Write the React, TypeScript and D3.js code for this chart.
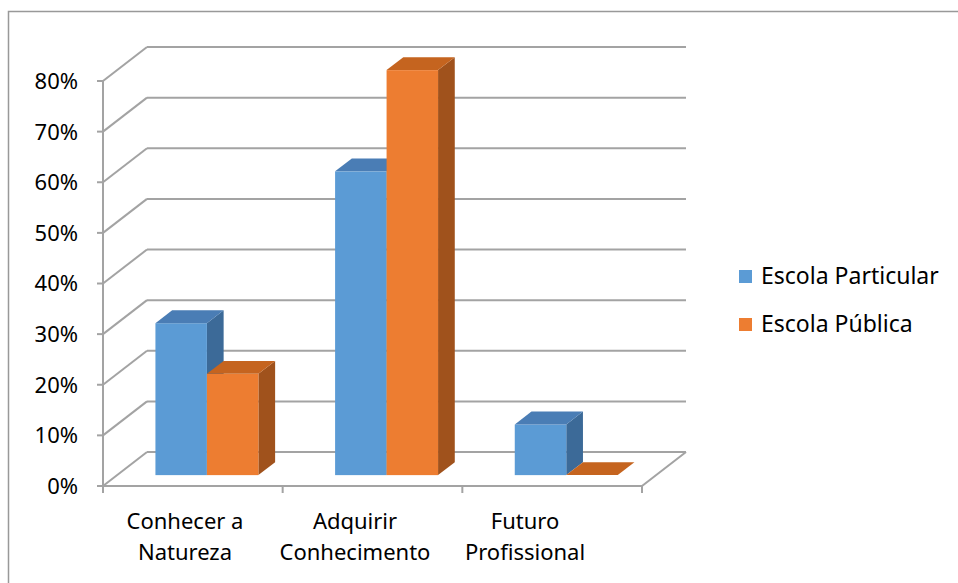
import * as d3 from 'd3';

const categories = [["Conhecer a", "Natureza"], ["Adquirir", "Conhecimento"], ["Futuro", "Profissional"]];
const seriesNames = ["Escola Particular", "Escola Pública"];
const particular = [0.30, 0.60, 0.10];
const publica = [0.20, 0.80, 0.0];
const yTicks = [0, 0.1, 0.2, 0.3, 0.4, 0.5, 0.6, 0.7, 0.8];

const faceColors = [
  { front: "#5B9BD5", top: "#4A7DB5", side: "#3C6A98" },
  { front: "#ED7D31", top: "#C5641F", side: "#A0521C" },
];

export default function App() {
  const width = 958;
  const height = 583;
  const font = "'Noto Sans', sans-serif";
  const grid = "#A3A3A3";

  // 3D wall depth offset
  const depthX = 44;
  const depthY = -34;
  const barFront = 0.32;
  const barBack = 0.70;

  const y = d3.scaleLinear().domain([0, 0.8]).range([486, 81]);
  const keys = categories.map((c) => c.join(" "));
  const x = d3.scaleBand<string>().domain(keys).range([103, 642]);
  const xs = d3.scaleBand<string>().domain(seriesNames).range([0, x.bandwidth()]).paddingInner(0).paddingOuter(0.745);
  const xLabel = d3.scaleBand<string>().domain(keys).range([100, 610]);

  const values = [particular, publica];
  const floorRight = x.range()[1];
  const left = x.range()[0];

  const bars: JSX.Element[] = [];
  keys.forEach((k, ci) => {
    seriesNames.forEach((s, si) => {
      const v = values[si][ci];
      const x0 = (x(k) ?? 0) + (xs(s) ?? 0);
      const x1 = x0 + xs.bandwidth();
      const fx = depthX * barFront, fy = depthY * barFront;
      const bx = depthX * barBack, by = depthY * barBack;
      const yt = y(v);
      const yb = y(0);
      const c = faceColors[si];
      const top = [[x0 + fx, yt + fy], [x1 + fx, yt + fy], [x1 + bx, yt + by], [x0 + bx, yt + by]];
      const side = [[x1 + fx, yt + fy], [x1 + bx, yt + by], [x1 + bx, yb + by], [x1 + fx, yb + fy]];
      bars.push(
        <g key={k + s}>
          {v > 0 && <polygon points={side.map((p) => p.join(",")).join(" ")} fill={c.side} />}
          {v > 0 && <rect x={x0 + fx} y={yt + fy} width={x1 - x0} height={yb - yt} fill={c.front} />}
          <polygon points={top.map((p) => p.join(",")).join(" ")} fill={c.top} />
        </g>
      );
    });
  });

  return (
    <svg width={width} height={height} style={{ position: "absolute", left: 0, top: 0, background: "#fff" }}>
      <rect x={8.5} y={11.5} width={1000} height={600} fill="#fff" stroke="#999" strokeWidth={1.5} />

      {/* walls and gridlines */}
      {yTicks.map((t) => (
        <g key={t} stroke={grid} strokeWidth={2} fill="none">
          <line x1={left} y1={y(t)} x2={left + depthX} y2={y(t) + depthY} />
          <line x1={left + depthX} y1={y(t) + depthY} x2={floorRight + depthX} y2={y(t) + depthY} />
          <line x1={left - 6} y1={y(t)} x2={left} y2={y(t)} />
        </g>
      ))}
      <g stroke={grid} strokeWidth={2} fill="none">
        <line x1={left} y1={y(0.8)} x2={left} y2={y(0)} />
        <line x1={left} y1={y(0)} x2={floorRight} y2={y(0)} />
        <line x1={floorRight} y1={y(0)} x2={floorRight + depthX} y2={y(0) + depthY} />
        {[...keys.map((k) => x(k) ?? 0), floorRight].map((px, i) => (
          <line key={i} x1={px} y1={y(0)} x2={px} y2={y(0) + 7} />
        ))}
      </g>

      {bars}

      {/* y tick labels */}
      {yTicks.map((t) => (
        <text key={t} x={78} y={y(t)} dy="0.36em" textAnchor="end" fontFamily={font} fontSize={22} fill="#000">
          {d3.format(".0%")(t)}
        </text>
      ))}

      {/* category labels */}
      {categories.map((c, i) => (
        <text key={i} textAnchor="middle" fontFamily={font} fontSize={22} fill="#000">
          {c.map((line, j) => (
            <tspan key={j} x={(xLabel(keys[i]) ?? 0) + xLabel.bandwidth() / 2} y={529 + j * 31}>{line}</tspan>
          ))}
        </text>
      ))}

      {/* legend */}
      {seriesNames.map((s, i) => (
        <g key={s} transform={`translate(739, ${270 + i * 48})`}>
          <rect x={0} y={0} width={13} height={13} fill={faceColors[i].front} />
          <text x={22} y={14} fontFamily={font} fontSize={23} fill="#000">{s}</text>
        </g>
      ))}
    </svg>
  );
}
